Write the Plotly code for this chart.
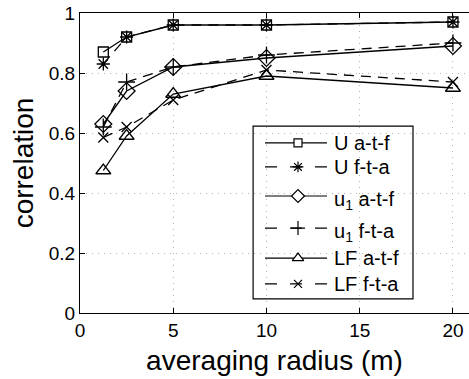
import plotly.graph_objects as go

# averaging radius (m) and correlation for each method
radius = [1.25, 2.5, 5, 10, 20]
U_atf = [0.87, 0.92, 0.96, 0.96, 0.97]
U_fta = [0.83, 0.92, 0.96, 0.96, 0.97]
u1_atf = [0.63, 0.74, 0.82, 0.85, 0.89]
u1_fta = [0.62, 0.77, 0.82, 0.86, 0.90]
LF_atf = [0.475, 0.59, 0.73, 0.79, 0.75]
LF_fta = [0.585, 0.62, 0.71, 0.81, 0.77]

labels = ["U a-t-f", "U f-t-a", "u<sub>1</sub> a-t-f", "u<sub>1</sub> f-t-a",
          "LF a-t-f", "LF f-t-a"]
x_ticks = [0, 5, 10, 15, 20]
y_ticks = [0, 0.2, 0.4, 0.6, 0.8, 1]

FONT = "Liberation Sans, Arial, Helvetica, sans-serif"
DASH = "10px,7px"
KEY_DASH = "12px,13px"

# symbol in the plot, symbol in the key (closed shapes get a white fill there)
styles = [
    dict(symbol="square-open", key="square", size=10, dash="solid"),
    dict(symbol="asterisk-open", key="asterisk-open", size=11, dash=DASH),
    dict(symbol="diamond-open", key="diamond", size=13, dash="solid"),
    dict(symbol="cross-thin-open", key="cross-thin-open", size=12, dash=DASH),
    dict(symbol="triangle-up-open", key="triangle-up", size=13, dash="solid"),
    dict(symbol="x-thin-open", key="x-thin-open", size=10, dash=DASH),
]
series = [U_atf, U_fta, u1_atf, u1_fta, LF_atf, LF_fta]

fig = go.Figure()
for ys, st in zip(series, styles):
    fig.add_trace(go.Scatter(
        x=radius, y=ys, mode="lines+markers", showlegend=False,
        line=dict(color="black", width=1.3, dash=st["dash"]),
        marker=dict(symbol=st["symbol"], size=st["size"], color="black",
                    line=dict(color="black", width=1.3)),
    ))

# hand-built legend box on an overlay axis spanning the plot area
leg_x0, leg_x1 = 0.445, 0.856
leg_y0, leg_y1 = 0.047, 0.623
row_y = [0.567, 0.487, 0.39, 0.283, 0.183, 0.097]
samp_x0, samp_xm, samp_x1, text_x = 0.4756, 0.5604, 0.635, 0.648

fig.add_shape(type="rect", xref="paper", yref="paper",
              x0=leg_x0, x1=leg_x1, y0=leg_y0, y1=leg_y1,
              line=dict(color="black", width=1.2), fillcolor="white",
              layer="between")

for lab, st, ry in zip(labels, styles, row_y):
    fig.add_trace(go.Scatter(
        x=[samp_x0, samp_x1], y=[ry, ry], mode="lines", showlegend=False,
        xaxis="x2", yaxis="y2",
        line=dict(color="black", width=1.2,
                  dash="solid" if st["dash"] == "solid" else KEY_DASH),
    ))
    closed = not st["key"].endswith("-open")
    fig.add_trace(go.Scatter(
        x=[samp_xm], y=[ry], mode="markers", showlegend=False,
        xaxis="x2", yaxis="y2",
        marker=dict(symbol=st["key"], size=round(st["size"] * 0.8),
                    color="white" if closed else "black",
                    line=dict(color="black", width=1.2)),
    ))
    sub = "<sub>" in lab
    fig.add_annotation(x=text_x, y=ry, xref="paper", yref="paper",
                       text=lab, showarrow=False, xanchor="left",
                       yanchor="middle", yshift=-4 if sub else 0,
                       font=dict(family=FONT, size=20, color="black"))

fig.update_layout(
    width=469, height=379,
    margin=dict(l=80, r=0, t=13, b=66),
    paper_bgcolor="white", plot_bgcolor="white",
    font=dict(family=FONT, color="black"),
    xaxis=dict(
        range=[0, 20.86], tickvals=x_ticks, ticktext=[str(v) for v in x_ticks],
        ticks="inside", ticklen=5, tickcolor="black",
        showline=True, linecolor="black", linewidth=1.2, mirror="ticks",
        showgrid=True, gridcolor="#b4b4b4", griddash="1px,5px", gridwidth=1.2,
        zeroline=False, tickfont=dict(size=19),
        title=dict(text="averaging radius (m)", font=dict(size=28), standoff=10),
    ),
    yaxis=dict(
        range=[0, 1], tickvals=y_ticks,
        ticktext=["0", "0.2", "0.4", "0.6", "0.8", "1"],
        ticks="inside", ticklen=5, tickcolor="black",
        showline=True, linecolor="black", linewidth=1.2,
        showgrid=True, gridcolor="#b4b4b4", griddash="1px,5px", gridwidth=1.2,
        zeroline=False, tickfont=dict(size=19),
        title=dict(text="correlation", font=dict(size=28), standoff=6),
    ),
    xaxis2=dict(range=[0, 1], overlaying="x", visible=False, domain=[0, 1]),
    yaxis2=dict(range=[0, 1], overlaying="y", visible=False, domain=[0, 1]),
)

fig.write_html("out.html")
